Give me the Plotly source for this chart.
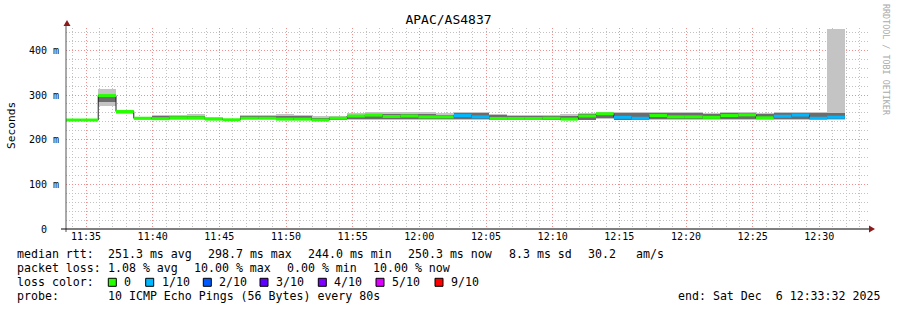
import plotly.graph_objects as go

# ---------------- data ----------------
TITLE = "APAC/AS4837"
STEP_START = [
    "2025-12-06 11:33:15", "2025-12-06 11:34:35", "2025-12-06 11:35:55", "2025-12-06 11:37:15",
    "2025-12-06 11:38:35", "2025-12-06 11:39:55", "2025-12-06 11:41:15", "2025-12-06 11:42:35",
    "2025-12-06 11:43:55", "2025-12-06 11:45:15", "2025-12-06 11:46:35", "2025-12-06 11:47:55",
    "2025-12-06 11:49:15", "2025-12-06 11:50:35", "2025-12-06 11:51:55", "2025-12-06 11:53:15",
    "2025-12-06 11:54:35", "2025-12-06 11:55:55", "2025-12-06 11:57:15", "2025-12-06 11:58:35",
    "2025-12-06 11:59:55", "2025-12-06 12:01:15", "2025-12-06 12:02:35", "2025-12-06 12:03:55",
    "2025-12-06 12:05:15", "2025-12-06 12:06:35", "2025-12-06 12:07:55", "2025-12-06 12:09:15",
    "2025-12-06 12:10:35", "2025-12-06 12:11:55", "2025-12-06 12:13:15", "2025-12-06 12:14:35",
    "2025-12-06 12:15:55", "2025-12-06 12:17:15", "2025-12-06 12:18:35", "2025-12-06 12:19:55",
    "2025-12-06 12:21:15", "2025-12-06 12:22:35", "2025-12-06 12:23:55", "2025-12-06 12:25:15",
    "2025-12-06 12:26:35", "2025-12-06 12:27:55", "2025-12-06 12:29:15", "2025-12-06 12:30:35",
]
STEP_END = "2025-12-06 12:31:55"
STEP_MS = 80000

MEDIAN = [244, 244, 298.7, 263, 248, 247, 249, 249, 246, 244.5, 248, 248, 246, 246, 244, 248,
          253, 255, 252, 253, 251, 251, 254, 251, 247.5, 247.5, 247.5, 248, 246, 253, 258, 250,
          248, 254, 251, 251, 250, 254, 255.5, 249, 252.5, 255, 248, 250.3]
SMOKE_LO = [243.5, 243.5, 276, 257, 246, 244, 245, 245, 244, 243, 246, 246, 244, 244, 243, 244,
            245, 244, 243, 244, 245, 243, 243, 243, 243, 243, 243, 244, 243, 243, 246, 243,
            244, 244, 244, 244, 243, 244, 244, 244, 244, 244, 244, 244]
SMOKE_HI = [245, 245, 314, 266, 249, 256, 256, 257, 250, 247, 255, 255, 257, 256, 253, 254,
            259, 261, 261, 261, 261, 259, 262, 261, 258, 256, 255, 256, 257, 260, 262, 261,
            261, 261, 261, 261, 260, 261, 262, 260, 261, 262, 262, 448]
CORE_LO = [244, 244, 285, 260, 247, 246, 247, 246, 245, 244, 247, 247, 245, 245, 244, 245,
           247, 247, 246, 247, 247, 246, 247, 246, 245, 245, 245, 245, 245, 245, 249, 245,
           245, 247, 247, 247, 246, 246, 246, 246, 247, 247, 246, 247]
CORE_HI = [244, 244, 300, 264, 249, 253, 253, 254, 248, 246, 252, 252, 253, 252, 249, 251,
           256, 258, 258, 258, 258, 256, 260, 259, 255, 253, 253, 254, 254, 257, 260, 259,
           259, 259, 259, 259, 258, 259, 259, 257, 259, 260, 260, 260]
LOSS = [0, 0, 0, 0, 0, 0, 0, 0, 0, 0, 0, 0, 0, 0, 0, 0, 0, 0, 0, 0, 0, 0, 1, 1, 0, 0, 0, 0, 0, 0,
        0, 1, 1, 0, 0, 0, 0, 0, 0, 0, 1, 1, 1, 1]

LOSS_LABELS = ["0", "1/10", "2/10", "3/10", "4/10", "5/10", "9/10"]
LOSS_COLORS = ["#26ff00", "#00b8ff", "#0059ff", "#5e00ff", "#7e00ff", "#dd00ff", "#ff0000"]

Y_TICKS = [0, 100, 200, 300, 400]
Y_TICKTEXT = ["0\u00a0\u00a0", "100 m", "200 m", "300 m", "400 m"]

STATS_RTT = ["median rtt:", "251.3 ms avg", "298.7 ms max", "244.0 ms min", "250.3 ms now",
             "8.3 ms sd", "30.2", "am/s"]
STATS_LOSS = ["packet loss:", "1.08 % avg", "10.00 % max", "0.00 % min", "10.00 % now"]
PROBE = ["probe:", "10 ICMP Echo Pings (56 Bytes) every 80s"]
END_TEXT = "end: Sat Dec\u00a0\u00a06 12:33:32 2025"
WATERMARK = "RRDTOOL / TOBI OETIKER"

# ---------------- layout helpers ----------------
W, H = 897, 310
L, R, T, B = 66, 29, 28, 81
PW, PH = W - L - R, H - T - B
MONO = "DejaVu Sans Mono"
DOTS = "1px,2px"


def px(x):
    return (x - L) / PW


def py(y):
    return (H - B - y) / PH


fig = go.Figure()

# smoke: outer and core bands
fig.add_trace(go.Bar(x=STEP_START, y=[h - l for h, l in zip(SMOKE_HI, SMOKE_LO)], base=SMOKE_LO,
                     width=STEP_MS, offset=0, marker=dict(color="#c4c4c4", line=dict(width=0)),
                     hoverinfo="skip"))
fig.add_trace(go.Bar(x=STEP_START, y=[h - l for h, l in zip(CORE_HI, CORE_LO)], base=CORE_LO,
                     width=STEP_MS, offset=0, marker=dict(color="#6c6c6c", line=dict(width=0)),
                     hoverinfo="skip"))
# median step line (dark connectors)
fig.add_trace(go.Scatter(x=STEP_START + [STEP_END], y=MEDIAN + [MEDIAN[-1]], mode="lines",
                         line=dict(color="#202020", width=1, shape="hv"), hoverinfo="skip"))
# median coloured by loss: horizontal segments per loss class
ends = STEP_START[1:] + [STEP_END]
for li, col in enumerate(LOSS_COLORS):
    xs, ys = [], []
    for s, e, m, l in zip(STEP_START, ends, MEDIAN, LOSS):
        if l == li:
            xs += [s, e, None]
            ys += [m, m, None]
    if xs:
        fig.add_trace(go.Scatter(x=xs, y=ys, mode="lines", line=dict(color=col, width=3),
                                 hoverinfo="skip", connectgaps=False))

shapes = []
ann = []

# axis lines and arrows
shapes.append(dict(type="line", xref="paper", yref="paper", x0=px(66), x1=px(66), y0=py(232), y1=py(23),
                   line=dict(color="#555555", width=1), layer="above"))
shapes.append(dict(type="line", xref="paper", yref="paper", x0=px(61), x1=px(869), y0=py(229), y1=py(229),
                   line=dict(color="#000000", width=1), layer="above"))
shapes.append(dict(type="path", xref="paper", yref="paper",
                   path=f"M {px(63.5)},{py(26)} L {px(70.5)},{py(26)} L {px(67)},{py(20)} Z",
                   fillcolor="#8b1a1a", line=dict(width=0), layer="above"))
shapes.append(dict(type="path", xref="paper", yref="paper",
                   path=f"M {px(869)},{py(225.5)} L {px(869)},{py(232.5)} L {px(875)},{py(229)} Z",
                   fillcolor="#8b1a1a", line=dict(width=0), layer="above"))


def text(x, y, s, size=11.6, color="#000", anchor="left", angle=0):
    ann.append(dict(xref="paper", yref="paper", x=px(x), y=py(y), text=s, showarrow=False,
                    xanchor=anchor, yanchor="middle", textangle=angle, borderpad=0,
                    font=dict(family=MONO, size=size, color=color)))


# stats rows
rtt_x = [16, 107, 207, 307, 407, 507.5, 586.5, 635]
for xx, s in zip(rtt_x, STATS_RTT):
    text(xx, 254.3, s)
loss_x = [16, 107, 193, 286, 372]
for xx, s in zip(loss_x, STATS_LOSS):
    text(xx, 268.3, s)
text(16, 282.3, "loss color:")
box_x = [108.3, 145.7, 203.3, 260, 318.3, 376, 435]
for xx, lab, col in zip(box_x, LOSS_LABELS, LOSS_COLORS):
    shapes.append(dict(type="rect", xref="paper", yref="paper", x0=px(xx), x1=px(xx + 8),
                       y0=py(286.3), y1=py(278.3), fillcolor=col, line=dict(color="#000", width=1)))
    text(xx + 15, 282.3, lab)
text(16, 296.3, PROBE[0])
text(107, 296.3, PROBE[1])
text(881, 296.3, END_TEXT, anchor="right")

# y title and watermark
text(11, 126, "Seconds", size=11.2, anchor="center", angle=-90)
text(886, 60, WATERMARK, size=8.4, color="#aaaaaa", anchor="center", angle=90)

fig.update_layout(
    width=W, height=H,
    margin=dict(l=L, r=R, t=T, b=B, pad=0),
    paper_bgcolor="white", plot_bgcolor="white",
    showlegend=False, barmode="overlay", bargap=0,
    title=dict(text=TITLE, x=0.5, xref="container", xanchor="center",
               y=1 - 19 / H, yref="container", yanchor="middle",
               font=dict(family=MONO, size=13, color="#000")),
    xaxis=dict(type="date", range=["2025-12-06 11:33:30", "2025-12-06 12:33:39"],
               tick0="2025-12-06 11:35:00", dtick=300000, tickformat="%H:%M",
               showgrid=True, gridcolor="#f28e8e", griddash=DOTS, gridwidth=1,
               minor=dict(dtick=60000, tick0="2025-12-06 11:35:00", showgrid=True,
                          gridcolor="#c2c2c2", griddash=DOTS, gridwidth=1),
               showline=False, zeroline=False, ticks="", fixedrange=True,
               tickfont=dict(family=MONO, size=10, color="#000")),
    yaxis=dict(range=[0, 450], tickmode="array", tickvals=Y_TICKS, ticktext=Y_TICKTEXT,
               showgrid=True, gridcolor="#f28e8e", griddash=DOTS, gridwidth=1,
               minor=dict(dtick=20, tick0=0, showgrid=True, gridcolor="#c2c2c2",
                          griddash=DOTS, gridwidth=1),
               showline=False, zeroline=False, ticks="", ticklabelstandoff=6,
               tickfont=dict(family=MONO, size=10, color="#000")),
    shapes=shapes, annotations=ann,
)

fig.write_html("out.html")
